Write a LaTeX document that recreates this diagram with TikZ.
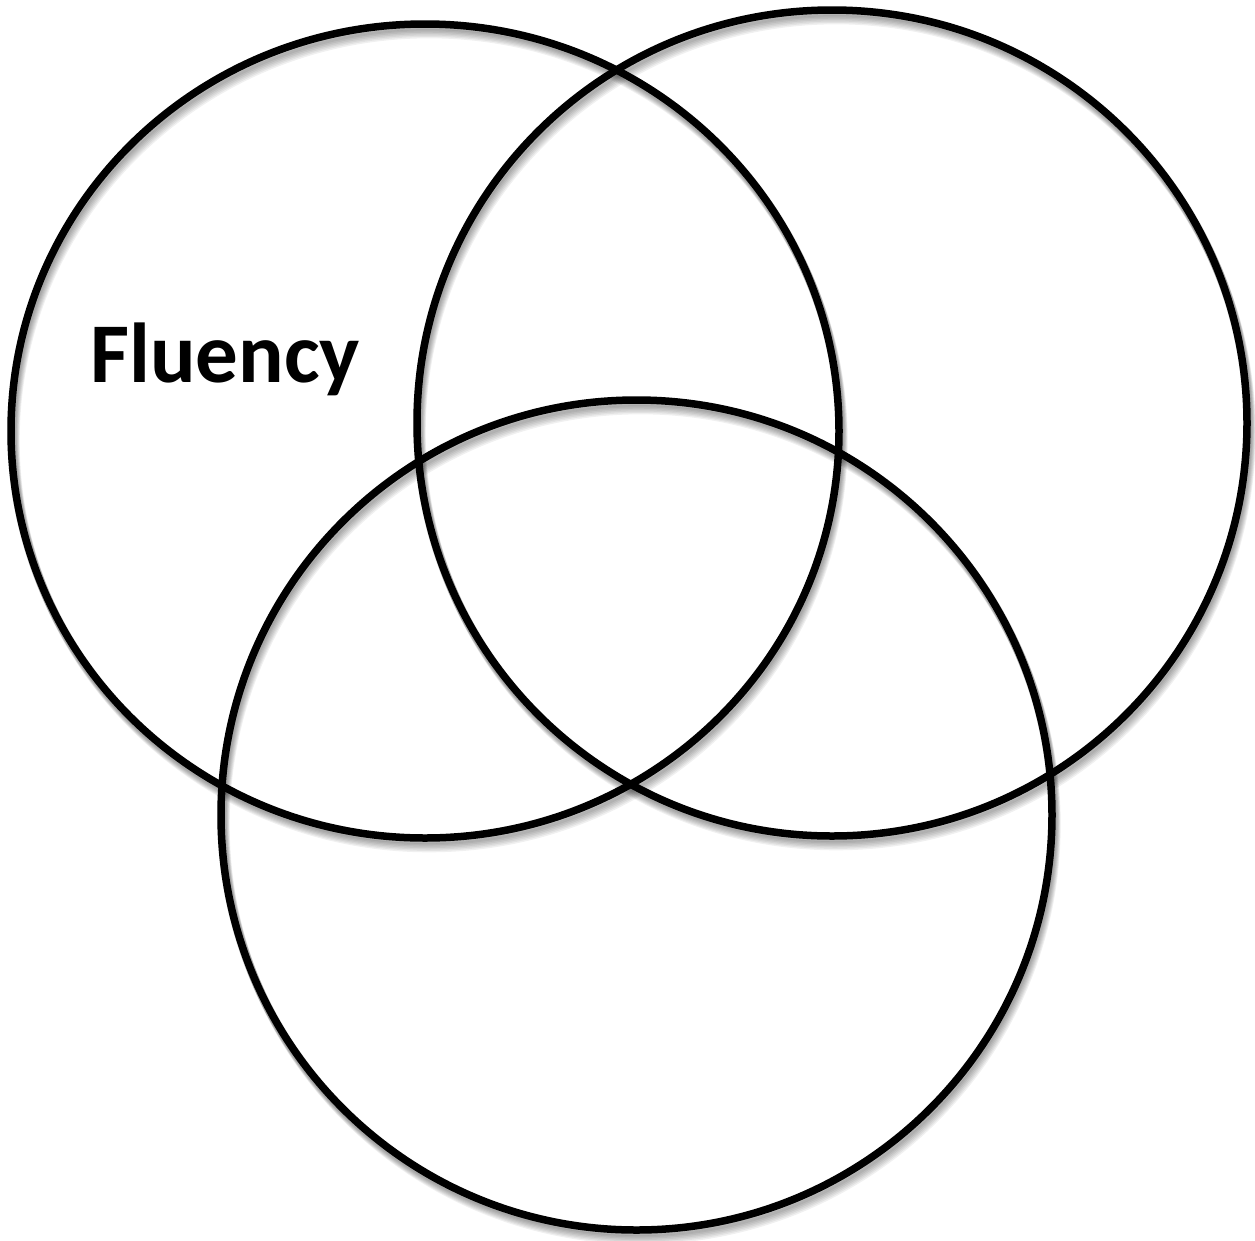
\documentclass[tikz,border=0pt]{standalone}
\usepackage{fontspec}
\setmainfont{Carlito}
\begin{document}
\begin{tikzpicture}[x=1pt,y=-1pt,
  ring/.style={draw=black,line width=7.5pt},
  shade/.style={draw=black,line width=9pt,draw opacity=0.06},
  label/.style={font=\bfseries\fontsize{85}{92}\selectfont,inner sep=0pt,anchor=base west}]
\useasboundingbox (0,0) rectangle (1255,1240);
% soft shadows
\foreach \k in {1,...,7}{
  \draw[shade] (425+0.6*\k,431+1.4*\k) ellipse [x radius=414, y radius=407];
  \draw[shade] (832+0.6*\k,423+1.4*\k) ellipse [x radius=415, y radius=413];
  \draw[shade] (636.5+0.6*\k,815+1.4*\k) ellipse [x radius=415.5, y radius=415];
}
\draw[ring] (425,431) ellipse [x radius=414, y radius=407];
\draw[ring] (832,423) ellipse [x radius=415, y radius=413];
\draw[ring] (636.5,815) ellipse [x radius=415.5, y radius=415];
\node[label] (fluency) at (90,382) {Fluency};
\end{tikzpicture}
\end{document}
